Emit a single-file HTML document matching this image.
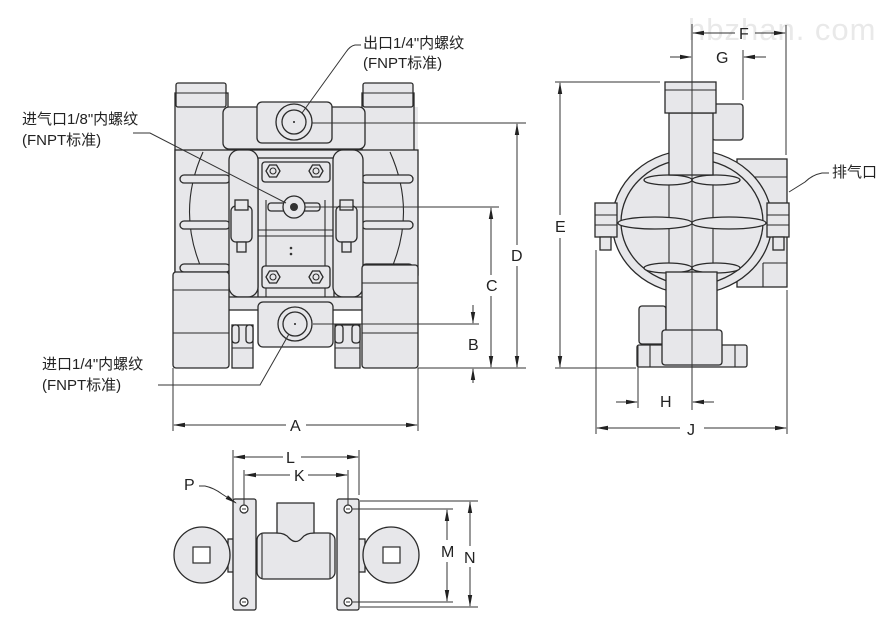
<!DOCTYPE html>
<html><head><meta charset="utf-8"><style>
html,body{margin:0;padding:0;background:#fff;}
svg{display:block;}
text{font-family:"Liberation Sans","Noto Sans CJK SC",sans-serif;fill:#222;}
.b{fill:#e7e7ea;stroke:#2a2a2a;stroke-width:1.3;}
.w{fill:#fff;stroke:#2a2a2a;stroke-width:1.2;}
.l{fill:none;stroke:#2a2a2a;stroke-width:1.1;}
.d{fill:none;stroke:#333;stroke-width:1;}
.lab{font-size:15px;}
.dim{font-size:16px;}
</style></head><body>
<svg width="894" height="629" viewBox="0 0 894 629" xmlns="http://www.w3.org/2000/svg">
<defs>
<marker id="ar" markerWidth="12" markerHeight="6" refX="11" refY="3" orient="auto" markerUnits="userSpaceOnUse">
<path d="M0,0.8 L12,3 L0,5.2 Z" fill="#222"/></marker>
</defs>

<!-- watermark -->
<text x="688" y="40" style="font-size:31px;fill:#e9e9e9;letter-spacing:1px">hbzhan. com</text>

<!-- ============ FRONT VIEW ============ -->
<rect x="175" y="107" width="243" height="203" fill="#e7e7ea"/>
<!-- left column -->
<rect class="b" x="175" y="93" width="53" height="200"/>
<rect class="b" x="176" y="83" width="50" height="24" rx="2"/>
<line class="l" x1="176" y1="93" x2="226" y2="93"/>
<!-- right column -->
<rect class="b" x="362" y="93" width="52" height="180"/>
<rect class="b" x="363" y="83" width="50" height="24" rx="2"/>
<line class="l" x1="363" y1="93" x2="413" y2="93"/>
<!-- top horizontal manifold -->
<rect class="b" x="223" y="107" width="142" height="42" rx="6"/>
<rect class="b" x="257" y="102" width="75" height="41" rx="5"/>
<circle class="b" cx="294" cy="122" r="18"/>
<circle class="b" cx="294" cy="122" r="12"/>
<circle cx="294" cy="122" r="1" fill="#222"/>
<!-- chamber areas -->
<rect class="b" x="175" y="150" width="243" height="125"/>
<path class="l" d="M203 152 Q176 212 203 272"/>
<path class="l" d="M390 152 Q417 212 390 272"/>
<!-- horizontal strips -->
<rect class="b" x="180" y="175" width="50" height="8" rx="4"/>
<rect class="b" x="362" y="175" width="51" height="8" rx="4"/>
<rect class="b" x="180" y="221" width="50" height="8" rx="4"/>
<rect class="b" x="362" y="221" width="51" height="8" rx="4"/>
<rect class="b" x="180" y="264" width="50" height="8" rx="4"/>
<rect class="b" x="362" y="264" width="51" height="8" rx="4"/>
<!-- center block -->
<rect class="b" x="258" y="158" width="76" height="140"/>
<line class="l" x1="266" y1="200" x2="266" y2="298"/>
<line class="l" x1="325" y1="200" x2="325" y2="298"/>
<rect class="b" x="262" y="162" width="68" height="20" rx="3"/>
<rect class="b" x="262" y="266" width="68" height="22" rx="3"/>
<line class="l" x1="258" y1="236" x2="334" y2="236"/>
<!-- hex nuts -->
<g class="b">
<polygon points="266,171 269.5,165 276.5,165 280,171 276.5,177 269.5,177"/>
<polygon points="309,171 312.5,165 319.5,165 323,171 319.5,177 312.5,177"/>
<polygon points="266,277 269.5,271 276.5,271 280,277 276.5,283 269.5,283"/>
<polygon points="309,277 312.5,271 319.5,271 323,277 319.5,283 312.5,283"/>
</g>
<circle class="l" cx="273" cy="171" r="3"/><circle class="l" cx="316" cy="171" r="3"/>
<circle class="l" cx="273" cy="277" r="3"/><circle class="l" cx="316" cy="277" r="3"/>
<!-- air inlet -->
<rect class="b" x="268" y="203" width="52" height="8" rx="3"/>
<circle class="b" cx="294" cy="207" r="11"/>
<circle cx="294" cy="207" r="4" fill="#333"/>
<circle cx="291" cy="248" r="1.3" fill="#333"/><circle cx="291" cy="254" r="1.3" fill="#333"/>
<!-- straps -->
<rect class="b" x="229" y="150" width="29" height="147" rx="10"/>
<rect class="b" x="333" y="150" width="30" height="147" rx="10"/>
<!-- clamp bolts -->
<rect class="b" x="231" y="206" width="21" height="36" rx="5"/>
<rect class="b" x="235" y="200" width="13" height="10"/>
<rect class="b" x="237" y="242" width="9" height="10"/>
<rect class="b" x="336" y="206" width="21" height="36" rx="5"/>
<rect class="b" x="340" y="200" width="13" height="10"/>
<rect class="b" x="342" y="242" width="9" height="10"/>
<line class="l" x1="258" y1="230" x2="333" y2="230"/>
<!-- lower body -->
<rect class="b" x="228" y="297" width="134" height="13"/>
<rect class="b" x="173" y="272" width="56" height="96" rx="3"/>
<line class="l" x1="173" y1="290" x2="229" y2="290"/>
<line class="l" x1="173" y1="333" x2="229" y2="333"/>
<rect class="b" x="362" y="265" width="56" height="103" rx="3"/>
<line class="l" x1="362" y1="283" x2="418" y2="283"/>
<line class="l" x1="362" y1="333" x2="418" y2="333"/>
<!-- bottom manifold -->
<rect class="b" x="258" y="302" width="75" height="45" rx="5"/>
<circle class="b" cx="295" cy="324" r="17"/>
<circle class="b" cx="295" cy="324" r="12"/>
<circle cx="295" cy="324" r="1" fill="#222"/>
<!-- foot clamps -->
<rect class="b" x="232" y="325" width="21" height="43"/>
<rect class="b" x="232" y="325" width="7" height="18" rx="3"/>
<rect class="b" x="246" y="325" width="7" height="18" rx="3"/>
<rect class="b" x="335" y="325" width="25" height="43"/>
<rect class="b" x="335" y="325" width="8" height="18" rx="3"/>
<rect class="b" x="352" y="325" width="8" height="18" rx="3"/>
<line class="l" x1="232" y1="348" x2="253" y2="348"/>
<line class="l" x1="335" y1="348" x2="360" y2="348"/>

<!-- front dims -->
<line class="d" x1="312" y1="123" x2="526" y2="123"/>
<line class="d" x1="305" y1="207" x2="499" y2="207"/>
<line class="d" x1="313" y1="324" x2="479" y2="324"/>
<line class="d" x1="418" y1="368" x2="526" y2="368"/>
<line class="d" x1="517" y1="245" x2="517" y2="124" marker-end="url(#ar)"/>
<line class="d" x1="517" y1="266" x2="517" y2="367" marker-end="url(#ar)"/>
<text class="dim" x="511" y="261">D</text>
<line class="d" x1="491" y1="275" x2="491" y2="208" marker-end="url(#ar)"/>
<line class="d" x1="491" y1="296" x2="491" y2="367" marker-end="url(#ar)"/>
<text class="dim" x="486" y="291">C</text>
<line class="d" x1="473" y1="305" x2="473" y2="323" marker-end="url(#ar)"/>
<line class="d" x1="473" y1="383" x2="473" y2="369" marker-end="url(#ar)"/>
<text class="dim" x="468" y="350">B</text>
<line class="d" x1="173" y1="368" x2="173" y2="431"/>
<line class="d" x1="418" y1="368" x2="418" y2="431"/>
<line class="d" x1="286" y1="425" x2="174" y2="425" marker-end="url(#ar)"/>
<line class="d" x1="306" y1="425" x2="417" y2="425" marker-end="url(#ar)"/>
<text class="dim" x="290" y="431">A</text>

<!-- front labels -->
<text class="lab" x="363" y="48">出口1/4"内螺纹</text>
<text class="lab" x="363" y="68">(FNPT标准)</text>
<path class="d" d="M361 45 L355 45 Q350 46 346 52 L302 113"/>
<text class="lab" x="22" y="124">进气口1/8"内螺纹</text>
<text class="lab" x="22" y="145">(FNPT标准)</text>
<path class="d" d="M133 133 L150 133 L286 203"/>
<text class="lab" x="42" y="369">进口1/4"内螺纹</text>
<text class="lab" x="42" y="390">(FNPT标准)</text>
<path class="d" d="M158 385 L260 385 L289 334"/>

<!-- ============ SIDE VIEW ============ -->
<rect class="b" x="737" y="159" width="50" height="128"/>
<line class="l" x1="737" y1="177" x2="787" y2="177"/>
<line class="l" x1="763" y1="263" x2="763" y2="287"/>
<line class="l" x1="763" y1="263" x2="787" y2="263"/>
<rect class="b" x="712" y="104" width="31" height="36" rx="3"/>
<ellipse class="b" cx="692" cy="222" rx="80" ry="72"/>
<ellipse class="b" cx="692" cy="222" rx="71" ry="63"/>
<rect class="b" x="595" y="203" width="22" height="34"/>
<line class="l" x1="595" y1="215" x2="617" y2="215"/>
<line class="l" x1="595" y1="225" x2="617" y2="225"/>
<rect class="b" x="600" y="237" width="11" height="13"/>
<rect class="b" x="767" y="203" width="22" height="34"/>
<line class="l" x1="767" y1="215" x2="789" y2="215"/>
<line class="l" x1="767" y1="225" x2="789" y2="225"/>
<rect class="b" x="773" y="237" width="11" height="13"/>
<line class="l" x1="669" y1="150" x2="669" y2="275"/>
<line class="l" x1="713" y1="150" x2="713" y2="275"/>
<g class="b">
<ellipse cx="668" cy="180" rx="24" ry="5"/><ellipse cx="716" cy="180" rx="24" ry="5"/>
<ellipse cx="655" cy="223" rx="37" ry="6"/><ellipse cx="729" cy="223" rx="37" ry="6"/>
<ellipse cx="668" cy="268" rx="24" ry="5"/><ellipse cx="716" cy="268" rx="24" ry="5"/>
</g>
<rect class="b" x="669" y="113" width="44" height="62"/>
<rect class="b" x="665" y="82" width="51" height="31"/>
<line class="l" x1="665" y1="90" x2="716" y2="90"/>
<rect class="b" x="639" y="306" width="27" height="38" rx="3"/>
<rect class="b" x="637" y="345" width="110" height="22" rx="2"/>
<line class="l" x1="650" y1="345" x2="650" y2="367"/>
<line class="l" x1="735" y1="345" x2="735" y2="367"/>
<rect class="b" x="666" y="272" width="51" height="60"/>
<rect class="b" x="662" y="330" width="60" height="35" rx="3"/>
<line class="d" x1="692" y1="24" x2="692" y2="410"/>

<!-- side dims -->
<line class="d" x1="555" y1="82" x2="660" y2="82"/>
<line class="d" x1="555" y1="368" x2="636" y2="368"/>
<line class="d" x1="560" y1="215" x2="560" y2="83" marker-end="url(#ar)"/>
<line class="d" x1="560" y1="238" x2="560" y2="367" marker-end="url(#ar)"/>
<text class="dim" x="555" y="232">E</text>
<line class="d" x1="786" y1="25" x2="786" y2="155"/>
<line class="d" x1="735" y1="33" x2="693" y2="33" marker-end="url(#ar)"/>
<line class="d" x1="755" y1="33" x2="785" y2="33" marker-end="url(#ar)"/>
<text class="dim" x="739" y="39">F</text>
<line class="d" x1="743" y1="50" x2="743" y2="100"/>
<line class="d" x1="670" y1="57" x2="691" y2="57" marker-end="url(#ar)"/>
<line class="d" x1="766" y1="57" x2="744" y2="57" marker-end="url(#ar)"/>
<text class="dim" x="716" y="63">G</text>
<line class="d" x1="638" y1="345" x2="638" y2="408"/>
<line class="d" x1="616" y1="402" x2="637" y2="402" marker-end="url(#ar)"/>
<line class="d" x1="714" y1="402" x2="693" y2="402" marker-end="url(#ar)"/>
<text class="dim" x="660" y="407">H</text>
<line class="d" x1="596" y1="250" x2="596" y2="434"/>
<line class="d" x1="787" y1="290" x2="787" y2="434"/>
<line class="d" x1="680" y1="428" x2="597" y2="428" marker-end="url(#ar)"/>
<line class="d" x1="704" y1="428" x2="786" y2="428" marker-end="url(#ar)"/>
<text class="dim" x="687" y="435">J</text>
<text class="lab" x="832" y="177">排气口</text>
<path class="d" d="M829 173 L822 173 Q812 175 805 182 L789 192"/>

<!-- ============ BOTTOM VIEW ============ -->
<rect class="b" x="228" y="539" width="6" height="33"/>
<rect class="b" x="358" y="539" width="7" height="33"/>
<circle class="b" cx="202" cy="555" r="28"/>
<rect class="w" x="193" y="547" width="17" height="16"/>
<circle class="b" cx="391" cy="555" r="28"/>
<rect class="w" x="383" y="547" width="17" height="16"/>
<rect class="b" x="257" y="533" width="78" height="46" rx="7"/>
<line class="l" x1="262" y1="534" x2="262" y2="578"/>
<line class="l" x1="330" y1="534" x2="330" y2="578"/>
<path class="b" d="M277 533 L277 503 L314 503 L314 533 Q306 533 302 538 Q296 545 289 538 Q285 533 277 533 Z"/>
<rect class="b" x="233" y="499" width="23" height="111" rx="2"/>
<rect class="b" x="337" y="499" width="22" height="111" rx="2"/>
<g class="w">
<circle cx="244" cy="509" r="4"/><circle cx="244" cy="602" r="4"/>
<circle cx="348" cy="509" r="4"/><circle cx="348" cy="602" r="4"/>
</g>
<g class="d">
<line x1="242" y1="509" x2="246" y2="509"/><line x1="242" y1="602" x2="246" y2="602"/>
<line x1="346" y1="509" x2="350" y2="509"/><line x1="346" y1="602" x2="350" y2="602"/>
</g>
<line class="d" x1="233" y1="450" x2="233" y2="499"/>
<line class="d" x1="359" y1="450" x2="359" y2="495"/>
<line class="d" x1="283" y1="457" x2="234" y2="457" marker-end="url(#ar)"/>
<line class="d" x1="301" y1="457" x2="358" y2="457" marker-end="url(#ar)"/>
<text class="dim" x="286" y="463">L</text>
<line class="d" x1="244" y1="470" x2="244" y2="505"/>
<line class="d" x1="348" y1="470" x2="348" y2="505"/>
<line class="d" x1="290" y1="475" x2="245" y2="475" marker-end="url(#ar)"/>
<line class="d" x1="308" y1="475" x2="347" y2="475" marker-end="url(#ar)"/>
<text class="dim" x="294" y="481">K</text>
<text class="dim" x="184" y="490">P</text>
<path class="d" d="M199 486 L205 486 Q214 488 222 494 L236 503" marker-end="url(#ar)"/>
<line class="d" x1="360" y1="501" x2="478" y2="501"/>
<line class="d" x1="360" y1="607" x2="478" y2="607"/>
<line class="d" x1="352" y1="509" x2="453" y2="509"/>
<line class="d" x1="352" y1="602" x2="453" y2="602"/>
<line class="d" x1="447" y1="540" x2="447" y2="510" marker-end="url(#ar)"/>
<line class="d" x1="447" y1="562" x2="447" y2="601" marker-end="url(#ar)"/>
<text class="dim" x="441" y="557">M</text>
<line class="d" x1="470" y1="546" x2="470" y2="502" marker-end="url(#ar)"/>
<line class="d" x1="470" y1="567" x2="470" y2="606" marker-end="url(#ar)"/>
<text class="dim" x="464" y="563">N</text>
</svg>
</body></html>
